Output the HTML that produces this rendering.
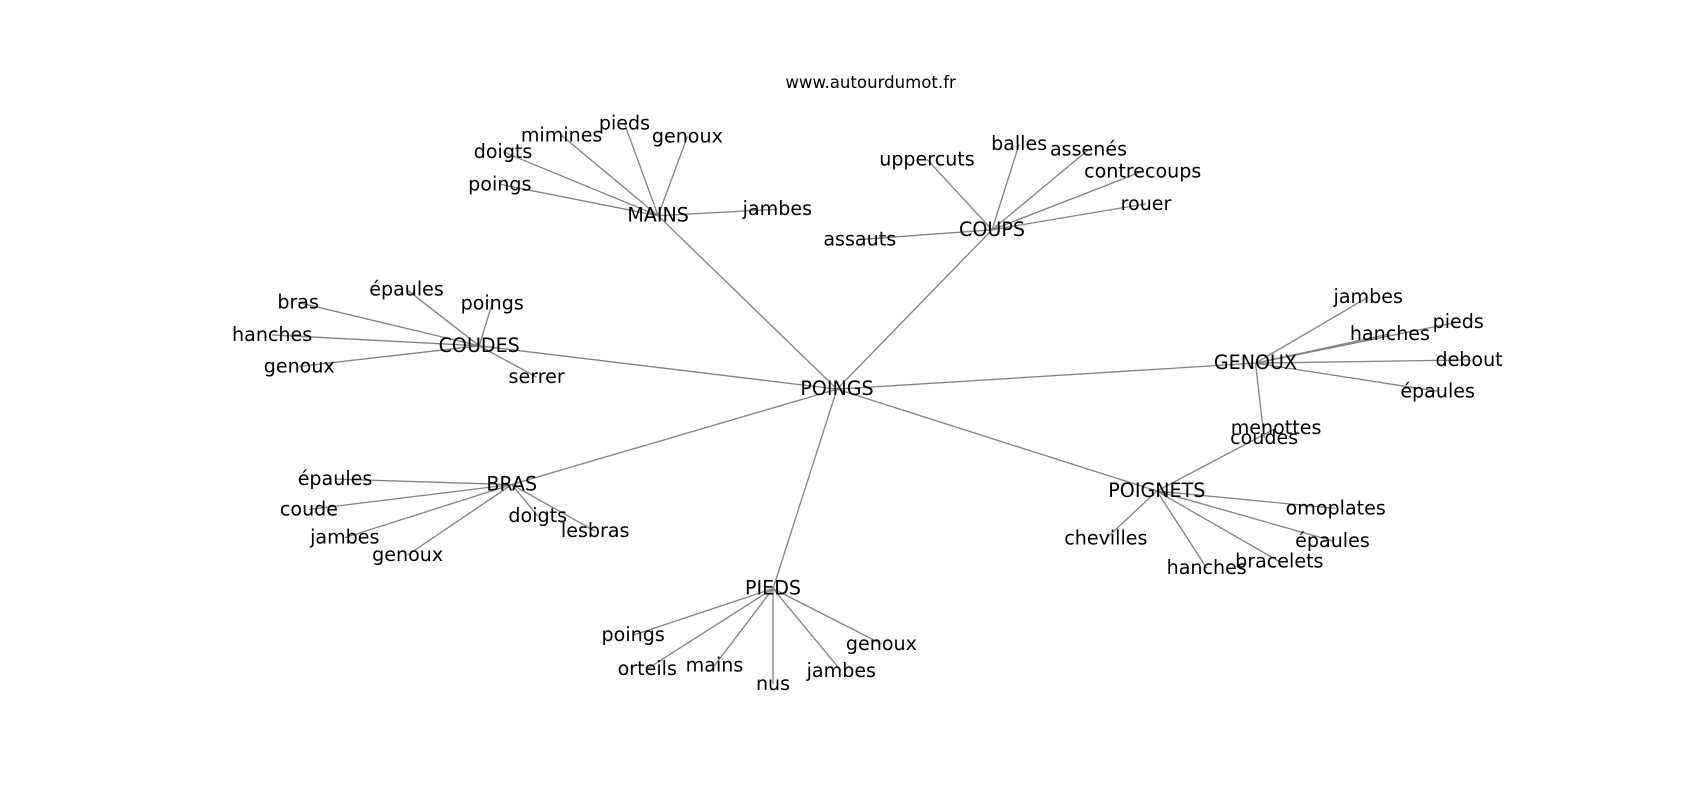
<!DOCTYPE html>
<html><head><meta charset="utf-8"><style>
html,body{margin:0;padding:0;background:#fff;}
svg{display:block;}
text{font-family:"DejaVu Sans","Liberation Sans",sans-serif;font-size:17.6px;fill:#000;text-anchor:middle;dominant-baseline:central;}
line{stroke:#808080;stroke-width:1.2;}
</style></head><body>
<svg width="1700" height="800" viewBox="0 0 1568 738" preserveAspectRatio="none" xmlns="http://www.w3.org/2000/svg">
<g>
<line x1="772" y1="359" x2="607" y2="199"/><line x1="772" y1="359" x2="915" y2="212"/>
<line x1="772" y1="359" x2="442" y2="319"/><line x1="772" y1="359" x2="1158" y2="335"/>
<line x1="772" y1="359" x2="472" y2="447"/><line x1="772" y1="359" x2="1067" y2="453"/>
<line x1="772" y1="359" x2="713" y2="543"/>
<line x1="607" y1="199" x2="464" y2="140"/><line x1="607" y1="199" x2="518" y2="125"/>
<line x1="607" y1="199" x2="576" y2="114"/><line x1="607" y1="199" x2="634" y2="126"/>
<line x1="607" y1="199" x2="461" y2="170"/><line x1="607" y1="199" x2="717" y2="193"/>
<line x1="915" y1="212" x2="855" y2="147"/><line x1="915" y1="212" x2="940" y2="133"/>
<line x1="915" y1="212" x2="1004" y2="138"/><line x1="915" y1="212" x2="1054" y2="158"/>
<line x1="915" y1="212" x2="1057" y2="188"/><line x1="915" y1="212" x2="793" y2="221"/>
<line x1="442" y1="319" x2="275" y2="279"/><line x1="442" y1="319" x2="375" y2="267"/>
<line x1="442" y1="319" x2="454" y2="280"/><line x1="442" y1="319" x2="251" y2="309"/>
<line x1="442" y1="319" x2="276" y2="338"/><line x1="442" y1="319" x2="495" y2="348"/>
<line x1="1158" y1="335" x2="1262" y2="274"/><line x1="1158" y1="335" x2="1282" y2="308"/>
<line x1="1158" y1="335" x2="1345" y2="297"/><line x1="1158" y1="335" x2="1355" y2="332"/>
<line x1="1158" y1="335" x2="1326" y2="361"/><line x1="1158" y1="335" x2="1166" y2="404"/>
<line x1="1067" y1="453" x2="1177" y2="395"/><line x1="1067" y1="453" x2="1232" y2="469"/>
<line x1="1067" y1="453" x2="1229" y2="499"/><line x1="1067" y1="453" x2="1180" y2="518"/>
<line x1="1067" y1="453" x2="1113" y2="524"/><line x1="1067" y1="453" x2="1020" y2="497"/>
<line x1="472" y1="447" x2="309" y2="442"/><line x1="472" y1="447" x2="285" y2="470"/>
<line x1="472" y1="447" x2="318" y2="496"/><line x1="472" y1="447" x2="376" y2="512"/>
<line x1="472" y1="447" x2="496" y2="476"/><line x1="472" y1="447" x2="549" y2="490"/>
<line x1="713" y1="543" x2="584" y2="586"/><line x1="713" y1="543" x2="597" y2="617"/>
<line x1="713" y1="543" x2="659" y2="614"/><line x1="713" y1="543" x2="713" y2="631"/>
<line x1="713" y1="543" x2="776" y2="619"/><line x1="713" y1="543" x2="813" y2="594"/>
</g>
<text x="803" y="76" style="font-size:15.3px">www.autourdumot.fr</text>
<text x="772" y="359">POINGS</text><text x="607" y="199">MAINS</text><text x="915" y="212">COUPS</text>
<text x="442" y="319">COUDES</text><text x="1158" y="335">GENOUX</text><text x="472" y="447">BRAS</text>
<text x="1067" y="453">POIGNETS</text><text x="713" y="543">PIEDS</text>
<text x="464" y="140">doigts</text><text x="518" y="125">mimines</text><text x="576" y="114">pieds</text>
<text x="634" y="126">genoux</text><text x="461" y="170">poings</text><text x="717" y="193">jambes</text>
<text x="855" y="147">uppercuts</text><text x="940" y="133">balles</text><text x="1004" y="138">assenés</text>
<text x="1054" y="158">contrecoups</text><text x="1057" y="188">rouer</text><text x="793" y="221">assauts</text>
<text x="275" y="279">bras</text><text x="375" y="267">épaules</text><text x="454" y="280">poings</text>
<text x="251" y="309">hanches</text><text x="276" y="338">genoux</text><text x="495" y="348">serrer</text>
<text x="1262" y="274">jambes</text><text x="1282" y="308">hanches</text><text x="1345" y="297">pieds</text>
<text x="1355" y="332">debout</text><text x="1326" y="361">épaules</text><text x="1166" y="404">coudes</text>
<text x="1177" y="395">menottes</text><text x="1232" y="469">omoplates</text><text x="1229" y="499">épaules</text>
<text x="1180" y="518">bracelets</text><text x="1113" y="524">hanches</text><text x="1020" y="497">chevilles</text>
<text x="309" y="442">épaules</text><text x="285" y="470">coude</text><text x="318" y="496">jambes</text>
<text x="376" y="512">genoux</text><text x="496" y="476">doigts</text><text x="549" y="490">lesbras</text>
<text x="584" y="586">poings</text><text x="597" y="617">orteils</text><text x="659" y="614">mains</text>
<text x="713" y="631">nus</text><text x="776" y="619">jambes</text><text x="813" y="594">genoux</text>
</svg>
</body></html>
